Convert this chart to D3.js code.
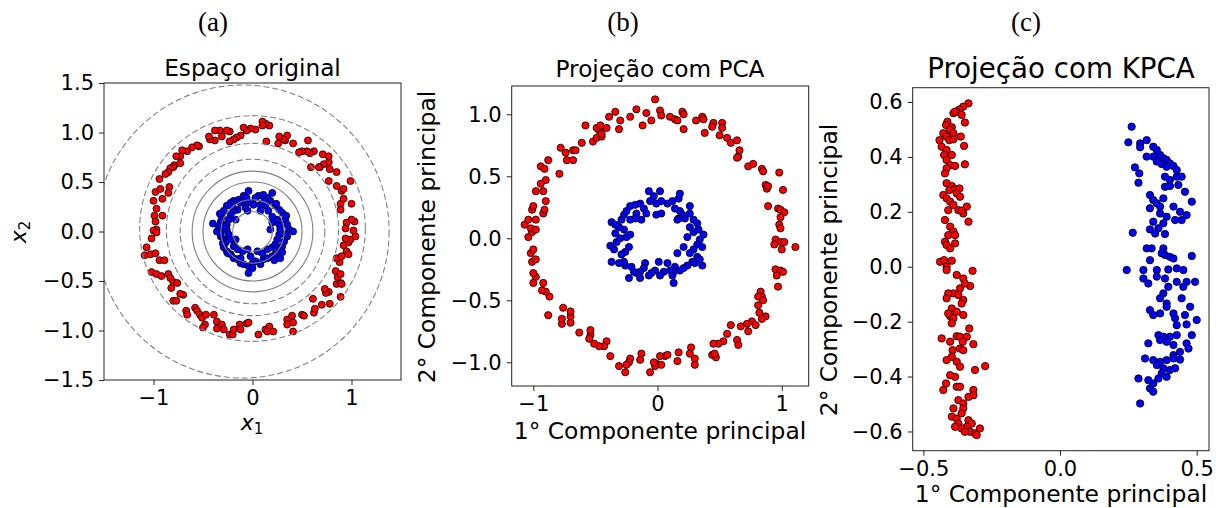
<!DOCTYPE html>
<html><head><meta charset="utf-8">
<script src="https://cdn.jsdelivr.net/npm/d3@7"></script>
<style>body{margin:0;background:#fff}svg{display:block}text{fill:#000}</style>
</head><body><svg id="chart" width="1216" height="508" style="font-family:'DejaVu Sans',sans-serif"></svg>
<script>
// ---------- data ----------
const originalRed = [[-0.94,0.53],[-0.98,0.40],[-0.93,0.43],[-0.91,0.33],[-0.84,0.45],[-0.85,0.39],[-1.00,0.31],[-0.97,0.23],[-0.99,0.16],[-0.98,0.10],[-0.91,0.16],[-0.97,0.02],[-1.00,0.01],[-0.97,-0.01],[-1.02,-0.07],[-1.07,-0.16],[-1.09,-0.24],[-1.03,-0.23],[-0.98,-0.22],[-0.94,-0.29],[-0.89,-0.29],[-1.02,-0.41],[-0.97,-0.43],[-0.92,-0.45],[-0.85,-0.43],[-0.83,-0.47],[-0.80,-0.51],[-0.82,-0.57],[-0.76,-0.52],[-0.70,-0.64],[-0.73,-0.63],[-0.80,-0.70],[-0.77,-0.70],[-0.67,-0.80],[-0.66,-0.84],[-0.58,-0.77],[-0.56,-0.80],[-0.53,-0.84],[-0.51,-0.87],[-0.47,-0.84],[-0.39,-0.84],[-0.48,-0.94],[-0.50,-0.97],[-0.36,-0.91],[-0.31,-0.94],[-0.36,-0.98],[-0.29,-0.99],[-0.23,-1.04],[-0.20,-1.04],[-0.19,-0.99],[-0.13,-0.94],[-0.12,-0.99],[-0.06,-0.93],[-0.04,-0.92],[0.06,-1.04],[0.13,-0.99],[0.17,-0.96],[0.15,-1.01],[0.21,-1.01],[0.35,-0.89],[0.40,-0.85],[0.35,-0.94],[0.41,-0.92],[0.41,-1.01],[0.50,-0.84],[0.52,-0.85],[0.62,-0.82],[0.63,-0.78],[0.61,-0.68],[0.70,-0.74],[0.78,-0.73],[0.77,-0.61],[0.74,-0.62],[0.73,-0.58],[0.89,-0.66],[0.85,-0.53],[0.89,-0.52],[0.90,-0.53],[0.86,-0.46],[0.84,-0.40],[0.89,-0.43],[0.88,-0.31],[0.85,-0.27],[0.90,-0.25],[0.95,-0.20],[0.97,-0.23],[0.92,-0.14],[0.97,-0.11],[0.99,-0.08],[0.94,-0.07],[1.04,-0.05],[1.02,0.01],[1.03,0.10],[1.00,0.12],[0.95,0.09],[0.94,0.03],[0.89,0.28],[1.00,0.28],[0.92,0.33],[0.90,0.41],[0.92,0.43],[0.89,0.22],[0.99,0.51],[0.85,0.46],[0.77,0.51],[0.85,0.60],[0.78,0.63],[0.77,0.70],[0.72,0.68],[0.71,0.78],[0.77,0.76],[0.68,0.65],[0.59,0.65],[0.67,0.65],[0.62,0.81],[0.58,0.79],[0.55,0.81],[0.50,0.81],[0.47,0.80],[0.56,0.92],[0.41,0.89],[0.33,0.92],[0.35,0.97],[0.31,0.93],[0.26,0.89],[0.27,0.96],[0.17,1.07],[0.13,1.09],[0.10,1.11],[0.10,1.07],[0.14,0.91],[0.03,1.03],[-0.02,1.04],[-0.06,1.02],[-0.09,1.05],[-0.12,0.97],[-0.16,0.95],[-0.19,0.93],[-0.23,0.91],[-0.23,1.01],[-0.26,1.02],[-0.31,0.96],[-0.33,1.02],[-0.38,1.02],[-0.38,0.92],[-0.43,0.93],[-0.44,0.96],[-0.54,0.86],[-0.56,0.87],[-0.61,0.85],[-0.66,0.81],[-0.71,0.82],[-0.73,0.76],[-0.77,0.76],[-0.79,0.67],[-0.80,0.65],[-0.73,0.69],[-0.83,0.64],[-0.85,0.60],[-0.88,0.58]];
const originalBlue = [[-0.04,0.41],[-0.09,0.36],[-0.14,0.32],[-0.19,0.31],[-0.22,0.29],[-0.26,0.26],[-0.29,0.21],[-0.31,0.15],[-0.32,0.10],[-0.34,0.05],[-0.40,0.08],[-0.36,0.00],[-0.32,-0.05],[-0.29,-0.08],[-0.27,-0.11],[-0.29,-0.16],[-0.26,-0.20],[-0.22,-0.23],[-0.19,-0.27],[-0.15,-0.28],[-0.12,-0.32],[-0.09,-0.33],[-0.04,-0.35],[-0.04,-0.42],[0.00,-0.32],[0.03,-0.30],[0.08,-0.33],[0.11,-0.28],[0.15,-0.27],[0.20,-0.25],[0.23,-0.23],[0.28,-0.27],[0.27,-0.18],[0.30,-0.15],[0.32,-0.10],[0.35,-0.05],[0.37,0.02],[0.41,0.00],[0.35,0.07],[0.33,0.12],[0.30,0.19],[0.27,0.22],[0.23,0.26],[0.18,0.31],[0.15,0.34],[0.11,0.37],[0.06,0.36],[0.03,0.34],[0.00,0.29],[-0.05,0.29],[-0.12,0.29],[-0.07,0.24],[-0.15,0.22],[-0.19,0.21],[-0.22,0.17],[-0.24,0.12],[-0.26,0.07],[-0.26,0.02],[-0.24,-0.03],[-0.22,-0.08],[-0.19,-0.15],[-0.15,-0.18],[-0.10,-0.20],[-0.05,-0.18],[-0.02,-0.25],[0.05,-0.20],[0.10,-0.22],[0.15,-0.18],[0.20,-0.16],[0.23,-0.13],[0.25,-0.08],[0.27,-0.03],[0.28,0.02],[0.27,0.07],[0.25,0.12],[0.20,0.15],[0.16,0.21],[0.13,0.26],[0.08,0.27],[0.01,0.27],[-0.17,-0.08],[-0.29,0.05],[0.18,0.02],[0.20,0.09],[-0.17,0.12],[-0.05,0.21],[0.08,0.21],[0.20,0.39],[-0.32,-0.02],[0.33,-0.03],[-0.20,0.25],[0.24,0.28],[-0.25,-0.22],[0.22,-0.29],[0.00,-0.37],[-0.06,0.34],[0.12,0.31],[-0.33,0.18],[0.34,0.16],[-0.12,-0.27],[0.30,-0.21],[-0.30,-0.12]];
const pcaRed = [[-0.02,1.12],[-0.17,1.04],[-0.09,1.01],[-0.34,1.02],[-0.39,0.98],[-0.30,0.95],[-0.31,0.88],[-0.22,0.98],[-0.12,0.91],[-0.05,0.95],[0.02,1.03],[0.03,0.99],[0.10,0.98],[0.14,0.96],[0.16,0.95],[0.20,1.02],[0.21,1.00],[0.21,0.88],[0.31,0.95],[0.36,0.98],[0.37,0.96],[0.45,0.93],[0.52,0.93],[0.52,0.89],[0.50,0.83],[0.44,0.90],[0.38,0.85],[0.56,0.81],[0.59,0.77],[0.64,0.79],[0.66,0.71],[0.65,0.66],[0.64,0.65],[0.73,0.58],[0.77,0.60],[0.84,0.56],[0.85,0.54],[0.98,0.53],[0.87,0.43],[0.88,0.40],[0.89,0.42],[1.01,0.39],[0.89,0.26],[0.97,0.24],[0.99,0.23],[1.02,0.21],[0.99,0.17],[0.98,0.11],[0.99,0.08],[0.95,-0.01],[0.99,-0.03],[1.02,-0.03],[1.00,-0.09],[0.94,-0.05],[1.11,-0.07],[0.95,-0.25],[0.99,-0.26],[1.01,-0.27],[0.96,-0.30],[0.97,-0.39],[0.83,-0.43],[0.84,-0.47],[0.81,-0.47],[0.85,-0.50],[0.81,-0.54],[0.82,-0.60],[0.87,-0.63],[0.84,-0.65],[0.76,-0.67],[0.72,-0.69],[0.79,-0.70],[0.73,-0.75],[0.67,-0.71],[0.59,-0.70],[0.64,-0.82],[0.65,-0.86],[0.56,-0.77],[0.53,-0.83],[0.49,-0.85],[0.45,-0.85],[0.44,-0.94],[0.47,-0.96],[0.46,-0.93],[0.30,-0.97],[0.30,-1.02],[0.27,-0.88],[0.26,-0.93],[0.17,-0.92],[0.16,-0.99],[0.06,-0.95],[0.08,-0.94],[0.02,-0.95],[-0.01,-1.01],[0.03,-1.02],[-0.02,-1.03],[-0.03,-1.00],[-0.06,-1.08],[-0.13,-0.93],[-0.14,-0.98],[-0.22,-0.97],[-0.23,-1.00],[-0.25,-1.02],[-0.26,-1.08],[-0.31,-1.03],[-0.38,-0.95],[-0.41,-0.83],[-0.43,-0.87],[-0.47,-0.87],[-0.51,-0.85],[-0.54,-0.78],[-0.55,-0.81],[-0.54,-0.74],[-0.63,-0.76],[-0.70,-0.68],[-0.70,-0.63],[-0.77,-0.69],[-0.77,-0.65],[-0.76,-0.56],[-0.70,-0.59],[-0.88,-0.62],[-0.87,-0.47],[-0.90,-0.43],[-0.93,-0.42],[-0.92,-0.36],[-1.00,-0.36],[-0.98,-0.31],[-1.00,-0.28],[-1.01,-0.19],[-0.98,-0.17],[-1.02,-0.12],[-1.00,-0.09],[-1.04,0.01],[-1.01,0.05],[-1.02,0.08],[-0.98,0.07],[-1.07,0.11],[-1.04,0.15],[-0.98,0.15],[-1.01,0.23],[-1.00,0.26],[-0.92,0.20],[-0.91,0.23],[-0.90,0.30],[-0.92,0.38],[-0.90,0.47],[-0.94,0.44],[-0.98,0.38],[-0.94,0.58],[-0.91,0.56],[-0.88,0.63],[-0.79,0.52],[-0.78,0.73],[-0.74,0.69],[-0.68,0.71],[-0.66,0.71],[-0.73,0.63],[-0.68,0.63],[-0.61,0.77],[-0.58,0.91],[-0.52,0.78],[-0.49,0.81],[-0.45,0.82],[-0.47,0.87],[-0.49,0.89],[-0.46,0.91],[-0.41,0.89],[-0.45,0.84]];
const pcaBlue = [[-0.07,0.38],[0.02,0.38],[-0.03,0.34],[-0.06,0.30],[-0.01,0.28],[0.03,0.30],[0.08,0.28],[0.12,0.30],[0.17,0.32],[0.18,0.36],[0.14,0.24],[0.18,0.22],[0.20,0.19],[0.22,0.16],[0.26,0.20],[0.29,0.15],[0.32,0.12],[0.26,0.09],[0.29,0.05],[0.33,0.07],[0.37,0.03],[0.34,-0.01],[0.32,-0.05],[0.36,-0.07],[0.29,-0.09],[0.26,-0.12],[0.32,-0.15],[0.28,-0.19],[0.30,-0.20],[0.34,-0.17],[0.36,-0.22],[0.24,-0.22],[0.21,-0.24],[0.18,-0.26],[0.14,-0.23],[0.13,-0.27],[0.12,-0.30],[0.13,-0.36],[0.08,-0.20],[0.10,-0.26],[0.05,-0.27],[0.02,-0.30],[0.01,-0.19],[-0.02,-0.26],[-0.05,-0.28],[-0.07,-0.30],[-0.10,-0.20],[-0.11,-0.24],[-0.14,-0.27],[-0.14,-0.32],[-0.17,-0.28],[-0.19,-0.27],[-0.21,-0.23],[-0.23,-0.32],[-0.26,-0.22],[-0.27,-0.19],[-0.31,-0.20],[-0.37,-0.19],[-0.38,-0.06],[-0.35,-0.09],[-0.33,-0.03],[-0.34,0.04],[-0.30,0.00],[-0.25,0.01],[-0.23,-0.07],[-0.26,-0.11],[-0.29,-0.13],[-0.22,0.03],[-0.27,0.07],[-0.31,0.09],[-0.37,0.13],[-0.34,0.11],[-0.29,0.15],[-0.27,0.19],[-0.25,0.22],[-0.22,0.26],[-0.18,0.27],[-0.14,0.28],[-0.11,0.24],[-0.09,0.20],[-0.17,0.20],[-0.13,0.15],[-0.18,0.16],[-0.22,0.15],[0.16,-0.12],[0.21,-0.07],[0.24,0.01],[-0.01,0.19],[0.03,0.20],[0.26,0.26],[0.17,0.16],[0.16,0.15]];
const kpcaRed = [[-0.335,0.595],[-0.354,0.583],[-0.368,0.573],[-0.378,0.565],[-0.390,0.559],[-0.384,0.565],[-0.360,0.553],[-0.348,0.525],[-0.412,0.528],[-0.417,0.516],[-0.396,0.508],[-0.402,0.498],[-0.390,0.486],[-0.427,0.486],[-0.415,0.474],[-0.405,0.461],[-0.441,0.461],[-0.390,0.464],[-0.363,0.474],[-0.351,0.440],[-0.433,0.437],[-0.415,0.425],[-0.424,0.407],[-0.396,0.407],[-0.415,0.389],[-0.402,0.370],[-0.384,0.367],[-0.348,0.373],[-0.415,0.358],[-0.421,0.340],[-0.415,0.304],[-0.396,0.294],[-0.405,0.279],[-0.384,0.282],[-0.368,0.285],[-0.427,0.261],[-0.415,0.249],[-0.402,0.237],[-0.378,0.267],[-0.366,0.255],[-0.390,0.225],[-0.409,0.206],[-0.372,0.206],[-0.354,0.194],[-0.341,0.219],[-0.360,0.204],[-0.421,0.170],[-0.402,0.146],[-0.335,0.164],[-0.390,0.128],[-0.409,0.115],[-0.384,0.115],[-0.421,0.091],[-0.415,0.079],[-0.384,0.085],[-0.402,0.067],[-0.439,0.018],[-0.424,0.024],[-0.396,0.022],[-0.415,0.000],[-0.415,-0.012],[-0.378,-0.030],[-0.354,-0.043],[-0.366,-0.079],[-0.329,-0.070],[-0.320,-0.015],[-0.348,-0.061],[-0.390,-0.097],[-0.409,-0.097],[-0.415,-0.115],[-0.372,-0.103],[-0.354,-0.121],[-0.360,-0.134],[-0.396,-0.152],[-0.402,-0.180],[-0.390,-0.188],[-0.378,-0.164],[-0.354,-0.176],[-0.409,-0.170],[-0.396,-0.206],[-0.378,-0.253],[-0.366,-0.255],[-0.341,-0.255],[-0.356,-0.273],[-0.402,-0.273],[-0.433,-0.261],[-0.393,-0.304],[-0.366,-0.298],[-0.354,-0.304],[-0.332,-0.225],[-0.317,-0.282],[-0.396,-0.328],[-0.415,-0.340],[-0.378,-0.346],[-0.366,-0.364],[-0.384,-0.401],[-0.402,-0.395],[-0.378,-0.437],[-0.366,-0.437],[-0.317,-0.449],[-0.274,-0.362],[-0.311,-0.376],[-0.417,-0.425],[-0.427,-0.449],[-0.372,-0.486],[-0.354,-0.498],[-0.335,-0.474],[-0.317,-0.468],[-0.390,-0.516],[-0.354,-0.516],[-0.396,-0.546],[-0.378,-0.553],[-0.360,-0.534],[-0.335,-0.559],[-0.323,-0.571],[-0.341,-0.583],[-0.329,-0.601],[-0.311,-0.607],[-0.305,-0.613],[-0.293,-0.589],[-0.372,-0.571],[-0.384,-0.583],[-0.360,-0.589],[-0.348,-0.601]];
const kpcaBlue = [[0.262,0.510],[0.250,0.453],[0.293,0.449],[0.317,0.461],[0.341,0.437],[0.354,0.425],[0.366,0.407],[0.378,0.395],[0.390,0.389],[0.402,0.376],[0.415,0.367],[0.427,0.352],[0.341,0.401],[0.354,0.383],[0.372,0.374],[0.390,0.364],[0.317,0.401],[0.293,0.435],[0.274,0.362],[0.290,0.340],[0.287,0.306],[0.384,0.328],[0.402,0.316],[0.427,0.328],[0.445,0.328],[0.433,0.298],[0.384,0.291],[0.402,0.294],[0.457,0.273],[0.482,0.237],[0.329,0.261],[0.341,0.243],[0.354,0.231],[0.378,0.249],[0.366,0.219],[0.329,0.213],[0.415,0.219],[0.439,0.200],[0.463,0.188],[0.421,0.170],[0.445,0.170],[0.390,0.182],[0.366,0.194],[0.341,0.164],[0.378,0.158],[0.360,0.140],[0.266,0.124],[0.329,0.136],[0.348,0.121],[0.384,0.119],[0.317,0.067],[0.335,0.067],[0.378,0.067],[0.384,0.043],[0.402,0.036],[0.415,0.030],[0.329,0.024],[0.372,0.049],[0.482,0.039],[0.427,-0.006],[0.451,-0.012],[0.244,-0.012],[0.305,-0.012],[0.354,-0.012],[0.396,-0.010],[0.305,-0.043],[0.323,-0.061],[0.354,-0.036],[0.384,-0.043],[0.427,-0.055],[0.463,-0.055],[0.494,-0.055],[0.451,-0.073],[0.396,-0.073],[0.378,-0.097],[0.366,-0.115],[0.390,-0.134],[0.445,-0.115],[0.476,-0.146],[0.329,-0.158],[0.341,-0.176],[0.366,-0.170],[0.390,-0.146],[0.415,-0.170],[0.421,-0.188],[0.457,-0.176],[0.500,-0.194],[0.427,-0.213],[0.463,-0.210],[0.360,-0.249],[0.378,-0.255],[0.402,-0.255],[0.427,-0.249],[0.323,-0.279],[0.366,-0.267],[0.390,-0.273],[0.415,-0.285],[0.463,-0.279],[0.482,-0.249],[0.470,-0.298],[0.439,-0.310],[0.415,-0.322],[0.311,-0.334],[0.341,-0.340],[0.366,-0.346],[0.390,-0.340],[0.415,-0.334],[0.439,-0.338],[0.354,-0.358],[0.378,-0.370],[0.402,-0.376],[0.421,-0.370],[0.372,-0.389],[0.390,-0.401],[0.360,-0.407],[0.341,-0.425],[0.329,-0.443],[0.341,-0.455],[0.287,-0.407],[0.323,-0.413],[0.293,-0.498]];

// contour lines of the first KPCA component in the original space
const contourLevels = [0.4, 0.3, 0.2, 0.1, -0.1, -0.2, -0.3, -0.1];
const contourCx = [0, 0, 0, 0, 0, 0, 0, -0.1];
const contourCy = [0, 0, 0, 0, 0, 0.02, 0.03, 0];
const contourR  = [0.2, 0.32, 0.5, 0.61, 0.73, 0.87, 1.14, 1.48];

const originalTicksX = [-1, 0, 1];
const originalTicksY = [-1.5, -1.0, -0.5, 0.0, 0.5, 1.0, 1.5];
const pcaTicksX = [-1, 0, 1];
const pcaTicksY = [-1.0, -0.5, 0.0, 0.5, 1.0];
const kpcaTicksX = [-0.5, 0.0, 0.5];
const kpcaTicksY = [-0.6, -0.4, -0.2, 0.0, 0.2, 0.4, 0.6];

const panelLetters = ["(a)", "(b)", "(c)"];
const panelTitles = ["Espaço original", "Projeção com PCA", "Projeção com KPCA"];

// ---------- drawing ----------
const svg = d3.select("#chart");
const FRAME = "#222";

function panel(o) {
  const x = d3.scaleLinear().domain(o.xd).range([o.l, o.r]);
  const y = d3.scaleLinear().domain(o.yd).range([o.b, o.t]);
  const g = svg.append("g");
  const clipId = "clip" + o.id;
  svg.append("clipPath").attr("id", clipId).append("rect")
    .attr("x", o.l).attr("y", o.t).attr("width", o.r - o.l).attr("height", o.b - o.t);
  const plot = g.append("g").attr("clip-path", `url(#${clipId})`);
  const dots = (data, fill) => plot.append("g").selectAll("circle").data(data).join("circle")
    .attr("cx", d => x(d[0])).attr("cy", d => y(d[1])).attr("r", o.mr)
    .attr("fill", fill).attr("stroke", "#000").attr("stroke-width", 0.8);
  dots(o.red, "#ff0000");
  dots(o.blue, "#0000ff");
  if (o.contours) {
    plot.append("g").selectAll("ellipse").data(contourLevels.map((lv, i) => ({lv, cx: contourCx[i], cy: contourCy[i], r: contourR[i]})))
      .join("ellipse")
      .attr("cx", d => x(d.cx)).attr("cy", d => y(d.cy))
      .attr("rx", d => x(d.r) - x(0)).attr("ry", d => y(0) - y(d.r))
      .attr("fill", "none").attr("stroke", "#808080").attr("stroke-width", 1.1)
      .attr("stroke-dasharray", d => d.lv < 0 ? "6,3" : null);
  }
  const ax = g.append("g").attr("transform", `translate(0,${o.b})`)
    .call(d3.axisBottom(x).tickValues(o.tx).tickFormat(d3.format(o.fx)).tickSize(5).tickPadding(5));
  const ay = g.append("g").attr("transform", `translate(${o.l},0)`)
    .call(d3.axisLeft(y).tickValues(o.ty).tickFormat(d3.format(o.fy)).tickSize(5).tickPadding(5));
  [ax, ay].forEach(a => {
    a.select(".domain").remove();
    a.selectAll("line").attr("stroke", FRAME).attr("stroke-width", 1);
    a.selectAll("text").style("font-family", "'DejaVu Sans', sans-serif").style("font-size", o.fs + "px").attr("fill", "#000");
  });
  g.append("rect").attr("x", o.l).attr("y", o.t).attr("width", o.r - o.l).attr("height", o.b - o.t)
    .attr("fill", "none").attr("stroke", FRAME).attr("stroke-width", 1);
  return {x, y};
}

panel({id: "a", l: 104, r: 401, t: 83, b: 380, xd: [-1.5, 1.5], yd: [-1.5, 1.5], red: originalRed, blue: originalBlue,
  contours: true, tx: originalTicksX, ty: originalTicksY, fx: "d", fy: ".1f", fs: 21, mr: 3.5});
panel({id: "b", l: 511.7, r: 808.7, t: 86, b: 386, xd: [-1.174, 1.217], yd: [-1.191, 1.228], red: pcaRed, blue: pcaBlue,
  tx: pcaTicksX, ty: pcaTicksY, fx: "d", fy: ".1f", fs: 21, mr: 3.6});
panel({id: "c", l: 912.7, r: 1209, t: 87.7, b: 450.7, xd: [-0.539, 0.545], yd: [-0.670, 0.652], red: kpcaRed, blue: kpcaBlue,
  tx: kpcaTicksX, ty: kpcaTicksY, fx: ".1f", fy: ".1f", fs: 21, mr: 3.7});

const txt = (x, y, s, size, family) => svg.append("text").attr("x", x).attr("y", y).attr("text-anchor", "middle")
  .style("font-size", size + "px").style("font-family", family || "'DejaVu Sans', sans-serif").text(s);

// panel letters
[213, 623, 1026].forEach((cx, i) => txt(cx, 31, panelLetters[i], 27, "'Liberation Serif', 'Times New Roman', serif"));

// titles
txt(252.5, 76, panelTitles[0], 23.2);
txt(660, 77, panelTitles[1], 23.2);
txt(1061, 78, panelTitles[2], 27.7);

// axis labels
const xl = svg.append("text").attr("x", 252).attr("y", 430).attr("text-anchor", "middle").style("font-size", "22px");
xl.append("tspan").style("font-style", "italic").text("x");
xl.append("tspan").style("font-size", "15px").attr("dy", 4).text("1");
const yl = svg.append("text").attr("transform", "translate(26,232) rotate(-90)").attr("text-anchor", "middle").style("font-size", "22px");
yl.append("tspan").style("font-style", "italic").text("x");
yl.append("tspan").style("font-size", "15px").attr("dy", 4).text("2");

txt(660, 439, "1° Componente principal", 23.4);
txt(1061, 502, "1° Componente principal", 23.4);
svg.append("text").attr("transform", "translate(435,237) rotate(-90)").attr("text-anchor", "middle").style("font-size", "23.4px").text("2° Componente principal");
svg.append("text").attr("transform", "translate(837,270) rotate(-90)").attr("text-anchor", "middle").style("font-size", "23.4px").text("2° Componente principal");
</script></body></html>
